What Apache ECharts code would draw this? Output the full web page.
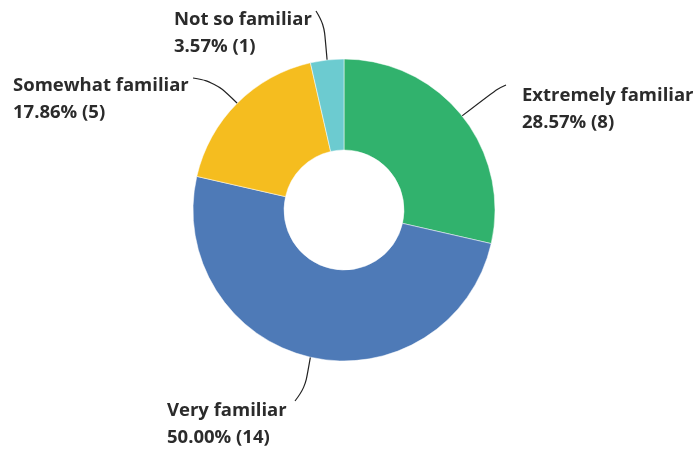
<!DOCTYPE html>
<html>
<head>
<meta charset="utf-8">
<script src="https://cdn.jsdelivr.net/npm/echarts@6/dist/echarts.min.js"></script>
<style>
  html, body { margin: 0; padding: 0; background: #fff; }
  #chart { width: 699px; height: 452px; }
</style>
</head>
<body>
<div id="chart"></div>
<script>
const categories = ['Extremely familiar', 'Very familiar', 'Somewhat familiar', 'Not so familiar'];
const counts = [8, 14, 5, 1];
const colors = ['#31b26d', '#4e7ab7', '#f5bd1f', '#6ccbd0'];

// where each label sits, and where its leader line bends and ends
const labelSpots = [
  { x: 522, y: 82, bend: [497, 89], end: [506, 85] },
  { x: 167, y: 397, bend: [305, 388], end: [295, 401] },
  { x: 13, y: 72, bend: [215, 82], end: [193, 78] },
  { x: 174, y: 6, bend: [324, 24], end: [316, 11] }
];

const total = counts.reduce((a, b) => a + b, 0);

const chart = echarts.init(document.getElementById('chart'));
chart.setOption({
  backgroundColor: '#fff',
  animation: false,
  series: [
    {
      type: 'pie',
      center: [344, 210],
      radius: [60, 151],
      startAngle: 90,
      clockwise: true,
      avoidLabelOverlap: false,
      data: categories.map((name, i) => ({
        name,
        value: counts[i],
        itemStyle: { color: colors[i] }
      })),
      itemStyle: { borderColor: '#fff', borderWidth: 0.5 },
      label: {
        show: true,
        position: 'outside',
        color: '#2b2b2b',
        fontFamily: 'Open Sans',
        fontWeight: 'bold',
        fontSize: 18.5,
        lineHeight: 27,
        formatter: (p) => p.name + '\n' + (p.value / total * 100).toFixed(2) + '% (' + p.value + ')'
      },
      labelLine: {
        show: true,
        smooth: 0.4,
        lineStyle: { color: '#222', width: 1.2 }
      },
      labelLayout: (params) => {
        const s = labelSpots[params.dataIndex];
        const p0 = params.labelLinePoints ? params.labelLinePoints[0] : s.bend;
        return {
          x: s.x,
          y: s.y,
          align: 'left',
          verticalAlign: 'top',
          hideOverlap: false,
          labelLinePoints: [p0, s.bend, s.end]
        };
      }
    }
  ]
});
</script>
</body>
</html>
